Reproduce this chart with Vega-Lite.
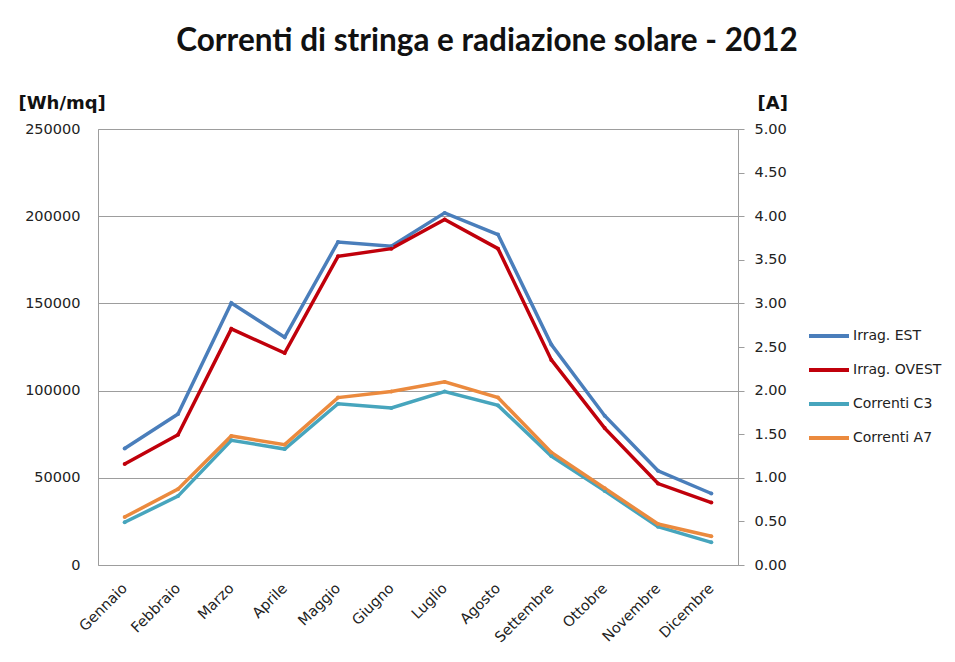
{
  "$schema": "https://vega.github.io/schema/vega-lite/v6.json",
  "width": 640,
  "height": 436,
  "autosize": {"type": "none"},
  "padding": {"left": 98, "top": 129, "right": 217, "bottom": 97},
  "background": "white",
  "config": {
    "view": {"stroke": "#9d9d9d", "strokeWidth": 1},
    "font": "DejaVu Sans"
  },
  "title": {
    "text": "Correnti di stringa e radiazione solare - 2012",
    "font": "Lato, Liberation Sans",
    "fontSize": 31.5,
    "fontWeight": "bold",
    "color": "#111111",
    "anchor": "middle",
    "frame": "group",
    "dx": 69,
    "baseline": "alphabetic",
    "offset": 12
  },
  "data": {
    "values": [
      {"mese": "Gennaio", "serie": "Irrag. EST", "valore": 66800},
      {"mese": "Febbraio", "serie": "Irrag. EST", "valore": 86600},
      {"mese": "Marzo", "serie": "Irrag. EST", "valore": 150200},
      {"mese": "Aprile", "serie": "Irrag. EST", "valore": 130600},
      {"mese": "Maggio", "serie": "Irrag. EST", "valore": 185200},
      {"mese": "Giugno", "serie": "Irrag. EST", "valore": 182800},
      {"mese": "Luglio", "serie": "Irrag. EST", "valore": 201900},
      {"mese": "Agosto", "serie": "Irrag. EST", "valore": 189500},
      {"mese": "Settembre", "serie": "Irrag. EST", "valore": 126400},
      {"mese": "Ottobre", "serie": "Irrag. EST", "valore": 85600},
      {"mese": "Novembre", "serie": "Irrag. EST", "valore": 54000},
      {"mese": "Dicembre", "serie": "Irrag. EST", "valore": 41000},
      {"mese": "Gennaio", "serie": "Irrag. OVEST", "valore": 57900},
      {"mese": "Febbraio", "serie": "Irrag. OVEST", "valore": 74700},
      {"mese": "Marzo", "serie": "Irrag. OVEST", "valore": 135400},
      {"mese": "Aprile", "serie": "Irrag. OVEST", "valore": 121500},
      {"mese": "Maggio", "serie": "Irrag. OVEST", "valore": 177000},
      {"mese": "Giugno", "serie": "Irrag. OVEST", "valore": 181400},
      {"mese": "Luglio", "serie": "Irrag. OVEST", "valore": 198100},
      {"mese": "Agosto", "serie": "Irrag. OVEST", "valore": 181400},
      {"mese": "Settembre", "serie": "Irrag. OVEST", "valore": 117600},
      {"mese": "Ottobre", "serie": "Irrag. OVEST", "valore": 78500},
      {"mese": "Novembre", "serie": "Irrag. OVEST", "valore": 46700},
      {"mese": "Dicembre", "serie": "Irrag. OVEST", "valore": 35800},
      {"mese": "Gennaio", "serie": "Correnti C3", "valore": 0.49},
      {"mese": "Febbraio", "serie": "Correnti C3", "valore": 0.79},
      {"mese": "Marzo", "serie": "Correnti C3", "valore": 1.43},
      {"mese": "Aprile", "serie": "Correnti C3", "valore": 1.33},
      {"mese": "Maggio", "serie": "Correnti C3", "valore": 1.85},
      {"mese": "Giugno", "serie": "Correnti C3", "valore": 1.80},
      {"mese": "Luglio", "serie": "Correnti C3", "valore": 1.99},
      {"mese": "Agosto", "serie": "Correnti C3", "valore": 1.83},
      {"mese": "Settembre", "serie": "Correnti C3", "valore": 1.25},
      {"mese": "Ottobre", "serie": "Correnti C3", "valore": 0.85},
      {"mese": "Novembre", "serie": "Correnti C3", "valore": 0.44},
      {"mese": "Dicembre", "serie": "Correnti C3", "valore": 0.26},
      {"mese": "Gennaio", "serie": "Correnti A7", "valore": 0.55},
      {"mese": "Febbraio", "serie": "Correnti A7", "valore": 0.87},
      {"mese": "Marzo", "serie": "Correnti A7", "valore": 1.48},
      {"mese": "Aprile", "serie": "Correnti A7", "valore": 1.38},
      {"mese": "Maggio", "serie": "Correnti A7", "valore": 1.92},
      {"mese": "Giugno", "serie": "Correnti A7", "valore": 1.99},
      {"mese": "Luglio", "serie": "Correnti A7", "valore": 2.10},
      {"mese": "Agosto", "serie": "Correnti A7", "valore": 1.92},
      {"mese": "Settembre", "serie": "Correnti A7", "valore": 1.29},
      {"mese": "Ottobre", "serie": "Correnti A7", "valore": 0.88},
      {"mese": "Novembre", "serie": "Correnti A7", "valore": 0.47},
      {"mese": "Dicembre", "serie": "Correnti A7", "valore": 0.33}
    ]
  },
  "encoding": {
    "x": {
      "field": "mese",
      "type": "nominal",
      "sort": ["Gennaio", "Febbraio", "Marzo", "Aprile", "Maggio", "Giugno", "Luglio", "Agosto", "Settembre", "Ottobre", "Novembre", "Dicembre"],
      "scale": {"type": "point", "padding": 0.5},
      "axis": {
        "title": null,
        "labelAngle": -45,
        "labelAlign": "right",
        "labelBaseline": "middle",
        "labelFontSize": 14.5,
        "labelColor": "#222222",
        "labelPadding": 21,
        "ticks": false,
        "domain": false,
        "grid": false
      }
    },
    "color": {
      "field": "serie",
      "type": "nominal",
      "scale": {
        "domain": ["Irrag. EST", "Irrag. OVEST", "Correnti C3", "Correnti A7"],
        "range": ["#4a7ebb", "#c0000b", "#47a5bd", "#eb8a3e"]
      },
      "legend": {
        "title": null,
        "orient": "none",
        "legendX": 719,
        "legendY": 195,
        "symbolType": "M-2,0H2",
        "symbolSize": 400,
        "symbolStrokeWidth": 4,
        "labelFontSize": 14,
        "labelColor": "#222222",
        "labelOffset": 12,
        "rowPadding": 14
      }
    }
  },
  "layer": [
    {
      "transform": [{"filter": "indexof(datum.serie, 'Irrag') === 0"}],
      "mark": {"type": "line", "strokeWidth": 3.5, "point": {"filled": true, "size": 16}},
      "encoding": {
        "y": {
          "field": "valore",
          "type": "quantitative",
          "scale": {"domain": [0, 250000], "nice": false},
          "axis": {
            "title": "[Wh/mq]",
            "titleAngle": 0,
            "titleAlign": "left",
            "titleBaseline": "alphabetic",
            "titleX": -80,
            "titleY": -21,
            "titleFontSize": 18,
            "titleFontWeight": "bold",
            "titleColor": "#111111",
            "values": [0, 50000, 100000, 150000, 200000, 250000],
            "format": "d",
            "labelFontSize": 14.5,
            "labelColor": "#222222",
            "labelPadding": 18,
            "ticks": false,
            "domain": false,
            "grid": true,
            "gridColor": "#9d9d9d",
            "gridWidth": 1
          }
        }
      }
    },
    {
      "transform": [{"filter": "indexof(datum.serie, 'Correnti') === 0"}],
      "mark": {"type": "line", "strokeWidth": 3.5, "point": {"filled": true, "size": 16}},
      "encoding": {
        "y": {
          "field": "valore",
          "type": "quantitative",
          "scale": {"domain": [0, 5], "nice": false},
          "axis": {
            "orient": "right",
            "title": "[A]",
            "titleAngle": 0,
            "titleAlign": "left",
            "titleBaseline": "alphabetic",
            "titleX": 19,
            "titleY": -21,
            "titleFontSize": 18,
            "titleFontWeight": "bold",
            "titleColor": "#111111",
            "values": [0, 0.5, 1, 1.5, 2, 2.5, 3, 3.5, 4, 4.5, 5],
            "format": ".2f",
            "labelFontSize": 14.5,
            "labelColor": "#222222",
            "labelPadding": 10,
            "ticks": true,
            "tickSize": 6,
            "tickColor": "#9d9d9d",
            "domain": true,
            "domainColor": "#9d9d9d",
            "grid": false
          }
        }
      }
    }
  ],
  "resolve": {"scale": {"y": "independent"}}
}
